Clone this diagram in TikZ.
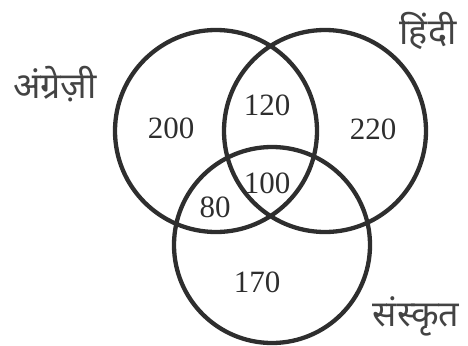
\documentclass[tikz,border=0pt]{standalone}
\usepackage{fontspec}
\setmainfont{Liberation Serif}
\newfontfamily\devfont[Script=Devanagari]{Noto Sans}
\usepackage{xcolor}
\definecolor{ink}{HTML}{2E2E2E}

\begin{document}
\begin{tikzpicture}[x=1pt, y=-1pt, font=\fontsize{31}{33}\selectfont, text=ink,
  ring/.style={draw=ink, line width=4.3pt},
  setlabel/.style={font=\devfont\fontsize{36}{38}\selectfont, text=ink!90}]
\useasboundingbox (0,0) rectangle (468,345);
% the three sets
\draw[ring] (216,131) circle[radius=101pt];
\draw[ring] (325,131) circle[radius=101pt];
\draw[ring] (272,245) circle[radius=98pt];
% set names
\node[setlabel] (eng) at (55,84) {अंग्रेज़ी};
\node[setlabel] (hin) at (428,31) {हिंदी};
\node[setlabel] (san) at (416,316) {संस्कृत};
% region counts
\foreach \n/\x/\y/\v in {
    onlyE/171/128/200,
    EH/267/105/120,
    onlyH/373/129/220,
    EHS/267/183/100,
    ES/215/207/80,
    onlyS/257/282/170}{
  \node (\n) at (\x,\y) {\v};
}
\end{tikzpicture}
\end{document}
